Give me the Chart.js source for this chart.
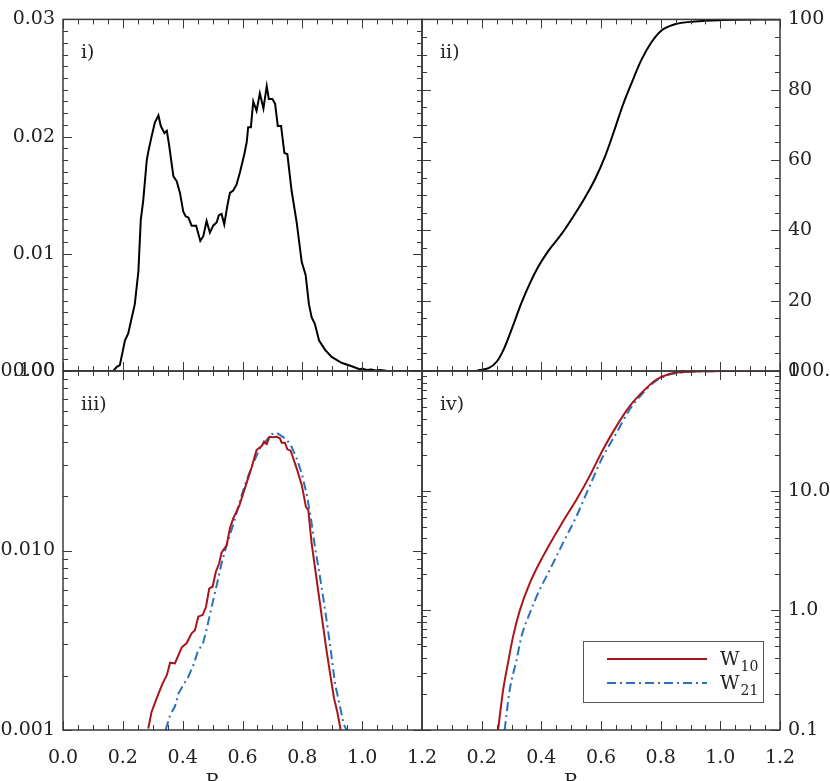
<!DOCTYPE html>
<html><head><meta charset="utf-8">
<script src="https://cdn.jsdelivr.net/npm/chart.js@4.4.1/dist/chart.umd.min.js"></script>
<style>
html,body{margin:0;padding:0;background:#fff;width:830px;height:781px;overflow:hidden;}
#wrap{position:relative;width:830px;height:781px;}
canvas{position:absolute;left:0;top:0;}
</style></head><body>
<div id="wrap">
<canvas id="c1" width="830" height="781"></canvas>
<canvas id="c2" width="830" height="781"></canvas>
<canvas id="c3" width="830" height="781"></canvas>
<canvas id="c4" width="830" height="781"></canvas>
</div>
<script>
// ---------- data ----------
const xTickValues = [0, 0.2, 0.4, 0.6, 0.8, 1.0, 1.2];
const pdfTickValues = [0, 0.01, 0.02, 0.03];
const cdfTickValues = [0, 20, 40, 60, 80, 100];
const logLeftTickValues = [0.001, 0.01, 0.1];
const logRightTickValues = [0.1, 1, 10, 100];
const panelNames = ['i)', 'ii)', 'iii)', 'iv)'];
const seriesNames = ['W', 'W'];
const seriesSubs = ['10', '21'];
const axisTitle = 'R';

// panel i: distribution
const pdfR = [0, 0.168, 0.18, 0.19, 0.207, 0.218, 0.24, 0.252, 0.26, 0.268, 0.28, 0.285, 0.296, 0.307, 0.319, 0.327, 0.339, 0.347, 0.354, 0.369, 0.38, 0.391, 0.402, 0.41, 0.419, 0.43, 0.445, 0.459, 0.469, 0.48, 0.491, 0.502, 0.514, 0.521, 0.53, 0.539, 0.55, 0.558, 0.569, 0.58, 0.592, 0.606, 0.614, 0.619, 0.628, 0.636, 0.647, 0.658, 0.67, 0.681, 0.688, 0.7, 0.709, 0.718, 0.729, 0.74, 0.75, 0.764, 0.781, 0.798, 0.811, 0.822, 0.831, 0.842, 0.856, 0.876, 0.898, 0.931, 0.965, 0.993, 1.0, 1.015, 1.03, 1.045, 1.06, 1.08, 1.1, 1.2];
const pdfVal = [0, 0, 0.00036, 0.0005, 0.0026, 0.0032, 0.0057, 0.0085, 0.0129, 0.0145, 0.018, 0.0187, 0.0200, 0.0212, 0.0218, 0.0209, 0.0203, 0.0205, 0.0194, 0.0166, 0.0162, 0.0152, 0.0136, 0.0132, 0.0131, 0.0124, 0.0124, 0.0111, 0.0115, 0.0128, 0.0118, 0.0124, 0.0127, 0.0133, 0.0134, 0.0125, 0.0142, 0.0152, 0.0154, 0.0159, 0.0170, 0.0185, 0.0195, 0.0208, 0.0208, 0.0230, 0.0222, 0.0237, 0.0224, 0.0243, 0.0232, 0.0232, 0.0228, 0.0209, 0.0209, 0.0186, 0.0185, 0.0154, 0.0127, 0.0093, 0.0082, 0.0057, 0.0046, 0.0040, 0.0026, 0.0018, 0.0012, 0.0007, 0.0004, 0.00014, 0.0002, 0.00008, 0.00012, 0.00004, 0.00008, 0.00002, 0, 0];

// panel ii: cumulative (%)
const cdfR = [0, 0.18, 0.189, 0.223, 0.251, 0.273, 0.301, 0.334, 0.362, 0.39, 0.423, 0.468, 0.512, 0.546, 0.579, 0.613, 0.646, 0.674, 0.702, 0.735, 0.769, 0.802, 0.847, 0.913, 1.0, 1.2];
const cdfVal = [0, 0, 0.2, 0.8, 2.7, 6, 12, 19.5, 25, 29.7, 34.1, 39, 44.6, 49.3, 54.4, 60.9, 68.8, 75.8, 81.8, 88.4, 93.5, 96.8, 98.6, 99.4, 99.8, 100];

// panel iii: W10 / W21 distributions (log)
const w10R = [0.285, 0.296, 0.313, 0.333, 0.347, 0.358, 0.374, 0.397, 0.413, 0.43, 0.441, 0.452, 0.467, 0.478, 0.489, 0.5, 0.511, 0.522, 0.53, 0.547, 0.558, 0.569, 0.589, 0.597, 0.614, 0.631, 0.647, 0.664, 0.672, 0.681, 0.69, 0.701, 0.714, 0.725, 0.731, 0.742, 0.75, 0.761, 0.781, 0.798, 0.812, 0.82, 0.831, 0.848, 0.865, 0.879, 0.892, 0.906, 0.917, 0.928];
const w10Val = [0.00102, 0.00126, 0.0015, 0.00182, 0.00202, 0.00237, 0.00235, 0.00289, 0.00304, 0.00346, 0.0036, 0.00428, 0.00437, 0.00486, 0.00615, 0.00628, 0.00762, 0.00849, 0.00972, 0.0107, 0.0133, 0.0151, 0.0177, 0.0195, 0.0239, 0.0293, 0.0363, 0.0382, 0.0404, 0.0392, 0.043, 0.0427, 0.043, 0.0422, 0.0399, 0.0399, 0.0366, 0.036, 0.0287, 0.0232, 0.0175, 0.0168, 0.011, 0.00685, 0.00428, 0.00291, 0.0021, 0.0015, 0.00126, 0.00100];
const w21R = [0.343, 0.358, 0.374, 0.386, 0.402, 0.419, 0.438, 0.452, 0.467, 0.482, 0.497, 0.514, 0.53, 0.549, 0.569, 0.592, 0.614, 0.636, 0.658, 0.681, 0.697, 0.714, 0.731, 0.747, 0.764, 0.781, 0.798, 0.814, 0.828, 0.842, 0.859, 0.876, 0.892, 0.909, 0.926, 0.939, 0.948];
const w21Val = [0.001, 0.00121, 0.00135, 0.0016, 0.00178, 0.00198, 0.00235, 0.00279, 0.00298, 0.00377, 0.00486, 0.00643, 0.00849, 0.011, 0.0139, 0.0191, 0.0247, 0.0306, 0.0371, 0.0413, 0.0444, 0.0453, 0.0434, 0.0416, 0.0379, 0.0326, 0.0269, 0.0208, 0.0154, 0.0105, 0.00714, 0.00467, 0.00304, 0.00182, 0.00135, 0.00107, 0.001];

// panel iv: W10 / W21 cumulative (log, %)
const w10cR = [0.255, 0.272, 0.288, 0.305, 0.328, 0.361, 0.405, 0.472, 0.517, 0.561, 0.606, 0.651, 0.695, 0.74, 0.784, 0.829, 0.873, 0.95, 1.05, 1.2];
const w10cVal = [0.1, 0.216, 0.36, 0.6, 1.0, 1.68, 2.81, 5.5, 8.36, 13.1, 21.9, 34.3, 50.4, 67.2, 84.1, 94.4, 97.8, 99.5, 99.9, 100];
const w21cR = [0.277, 0.294, 0.317, 0.333, 0.361, 0.394, 0.428, 0.472, 0.517, 0.561, 0.606, 0.651, 0.695, 0.74, 0.784, 0.829, 0.873, 0.95, 1.05, 1.2];
const w21cVal = [0.1, 0.216, 0.385, 0.6, 0.944, 1.48, 2.17, 3.63, 6.05, 10.8, 19.2, 30.1, 47.2, 65.2, 82.5, 93.5, 97.5, 99.4, 99.9, 100];

// ---------- style ----------
const W = 830, H = 781;
const FONT = "'DejaVu Serif', 'Liberation Serif', serif";
const FSIZE = 19;
const TEXT = '#222';
const AXIS = '#3a3a3a';
const RED = '#a8151b';
const BLUE = '#2a72bd';
const DASHDOT = [9, 4, 2, 4];

const pts = (xs, ys) => xs.map((x, i) => ({x, y: ys[i]}));

function gridValues(min, max, step) {
  const out = [];
  const n = Math.round((max - min) / step);
  for (let i = 0; i <= n; i++) out.push(min + i * step);
  return out;
}
function logValues(min, max) {
  const out = [];
  for (let d = Math.floor(Math.log10(min) - 1e-9); d <= Math.ceil(Math.log10(max)); d++) {
    for (let k = 1; k <= 9; k++) {
      const v = k * Math.pow(10, d);
      if (v >= min * 0.9999 && v <= max * 1.0001) out.push({v, major: k === 1});
    }
  }
  return out;
}

const frameTicks = {
  id: 'frameTicks',
  afterDatasetsDraw(chart, args, o) {
    const {ctx, chartArea: a, scales: {x, y}} = chart;
    ctx.save();
    ctx.strokeStyle = AXIS;
    ctx.lineWidth = 1;
    const majX = x.ticks.map(t => t.value);
    const isMaj = (v, arr) => arr.some(m => Math.abs(m - v) < 1e-9 * Math.max(1, Math.abs(m)));
    gridValues(x.min, x.max, o.xMinor).forEach(v => {
      const p = Math.round(x.getPixelForValue(v)) + 0.5;
      const len = isMaj(v, majX) ? 9 : 5;
      ctx.beginPath();
      ctx.moveTo(p, a.bottom); ctx.lineTo(p, a.bottom - len);
      ctx.moveTo(p, a.top); ctx.lineTo(p, a.top + len);
      ctx.stroke();
    });
    let yv;
    if (o.yLog) yv = logValues(y.min, y.max);
    else { const majY = y.ticks.map(t => t.value); yv = gridValues(y.min, y.max, o.yMinor).map(v => ({v, major: isMaj(v, majY)})); }
    yv.forEach(({v, major}) => {
      const p = Math.round(y.getPixelForValue(v)) + 0.5;
      const len = major ? 9 : 5;
      ctx.beginPath();
      ctx.moveTo(a.left, p); ctx.lineTo(a.left + len, p);
      ctx.moveTo(a.right, p); ctx.lineTo(a.right - len, p);
      ctx.stroke();
    });
    ctx.lineWidth = 1.5;
    ctx.strokeRect(a.left, a.top, a.right - a.left, a.bottom - a.top);
    ctx.fillStyle = TEXT;
    ctx.font = FSIZE + 'px ' + FONT;
    ctx.textAlign = 'left';
    ctx.textBaseline = 'alphabetic';
    ctx.fillText(o.label, a.left + 18, a.top + 39);
    if (o.rTitle) {
      ctx.textAlign = 'center';
      ctx.textBaseline = 'top';
      ctx.fillText(axisTitle, x.getPixelForValue(0.5), 773);
    }
    if (o.legend) {
      const bx = a.right - 197, by = a.bottom - 89, bw = 180, bh = 61;
      ctx.lineWidth = 1;
      ctx.strokeStyle = '#555';
      ctx.fillStyle = '#fff';
      ctx.fillRect(bx, by, bw, bh);
      ctx.strokeRect(bx + 0.5, by + 0.5, bw, bh);
      chart.data.datasets.forEach((ds, i) => {
        const ly = by + 18 + i * 24;
        ctx.save();
        ctx.strokeStyle = ds.borderColor;
        ctx.lineWidth = ds.borderWidth;
        ctx.setLineDash(ds.borderDash || []);
        ctx.beginPath();
        ctx.moveTo(bx + 24, ly); ctx.lineTo(bx + 124, ly);
        ctx.stroke();
        ctx.restore();
        ctx.fillStyle = TEXT;
        ctx.textAlign = 'left';
        ctx.textBaseline = 'alphabetic';
        ctx.font = FSIZE + 'px ' + FONT;
        ctx.fillText(seriesNames[i], bx + 137, ly + 6);
        const ww = ctx.measureText(seriesNames[i]).width;
        ctx.font = '14px ' + FONT;
        ctx.fillText(seriesSubs[i], bx + 137 + ww + 1, ly + 12);
      });
    }
    ctx.restore();
  }
};

function makePanel(id, p) {
  const left = p.side === 'left';
  const [L, T, R, B] = p.area;
  return new Chart(document.getElementById(id), {
    type: 'line',
    data: {datasets: p.datasets},
    options: {
      responsive: false,
      animation: false,
      devicePixelRatio: 1,
      layout: {padding: {left: left ? 0 : L, right: left ? W - R : 0, top: T, bottom: 0}},
      elements: {point: {radius: 0}},
      plugins: {legend: {display: false}, tooltip: {enabled: false}, frameTicks: p.deco},
      scales: {
        x: {
          type: 'linear', position: 'bottom', min: 0, max: 1.2,
          afterBuildTicks: s => { s.ticks = xTickValues.map(v => ({value: v})); },
          afterFit: s => { s.height = H - B; },
          grid: {display: false, drawTicks: false},
          border: {display: false},
          ticks: {
            display: p.xLabels, autoSkip: false, maxRotation: 0, padding: 17,
            color: TEXT, font: {family: FONT, size: FSIZE},
            callback: v => (p.hideZero && Math.abs(v) < 1e-9) ? '' : v.toFixed(1)
          }
        },
        y: {
          type: p.yType, position: left ? 'left' : 'right', min: p.yMin, max: p.yMax,
          afterBuildTicks: s => { s.ticks = p.yTicks.map(v => ({value: v})); },
          afterFit: s => { s.width = left ? L : W - R; },
          grid: {display: false, drawTicks: false},
          border: {display: false},
          ticks: {
            autoSkip: false, padding: 8, color: TEXT, font: {family: FONT, size: FSIZE},
            callback: v => p.yFmt(v)
          }
        }
      }
    },
    plugins: [frameTicks]
  });
}

const blackLine = (data, smooth) => ({data, borderColor: '#000', borderWidth: 2, fill: false,
  tension: 0, cubicInterpolationMode: smooth ? 'monotone' : 'default'});

makePanel('c1', {
  side: 'left', area: [63, 13, 422, 371], xLabels: false,
  yType: 'linear', yMin: 0, yMax: 0.03, yTicks: pdfTickValues, yFmt: v => v.toFixed(2),
  datasets: [blackLine(pts(pdfR, pdfVal), false)],
  deco: {label: panelNames[0], xMinor: 0.05, yMinor: 0.001}
});
makePanel('c2', {
  side: 'right', area: [422, 13, 780, 371], xLabels: false,
  yType: 'linear', yMin: 0, yMax: 100, yTicks: cdfTickValues, yFmt: v => String(Math.round(v)),
  datasets: [blackLine(pts(cdfR, cdfVal), true)],
  deco: {label: panelNames[1], xMinor: 0.05, yMinor: 5}
});
makePanel('c3', {
  side: 'left', area: [63, 371, 422, 730], xLabels: true,
  yType: 'logarithmic', yMin: 0.001, yMax: 0.1, yTicks: logLeftTickValues, yFmt: v => v.toFixed(3),
  datasets: [
    {data: pts(w10R, w10Val), borderColor: RED, borderWidth: 2, tension: 0, fill: false},
    {data: pts(w21R, w21Val), borderColor: BLUE, borderWidth: 2, borderDash: DASHDOT, tension: 0, fill: false}
  ],
  deco: {label: panelNames[2], xMinor: 0.05, yLog: true, rTitle: true}
});
makePanel('c4', {
  side: 'right', area: [422, 371, 780, 730], xLabels: true, hideZero: true,
  yType: 'logarithmic', yMin: 0.1, yMax: 100, yTicks: logRightTickValues, yFmt: v => v.toFixed(1),
  datasets: [
    {data: pts(w10cR, w10cVal), borderColor: RED, borderWidth: 2, cubicInterpolationMode: 'monotone', fill: false},
    {data: pts(w21cR, w21cVal), borderColor: BLUE, borderWidth: 2, borderDash: DASHDOT, cubicInterpolationMode: 'monotone', fill: false}
  ],
  deco: {label: panelNames[3], xMinor: 0.05, yLog: true, rTitle: true, legend: true}
});
</script>
</body></html>
